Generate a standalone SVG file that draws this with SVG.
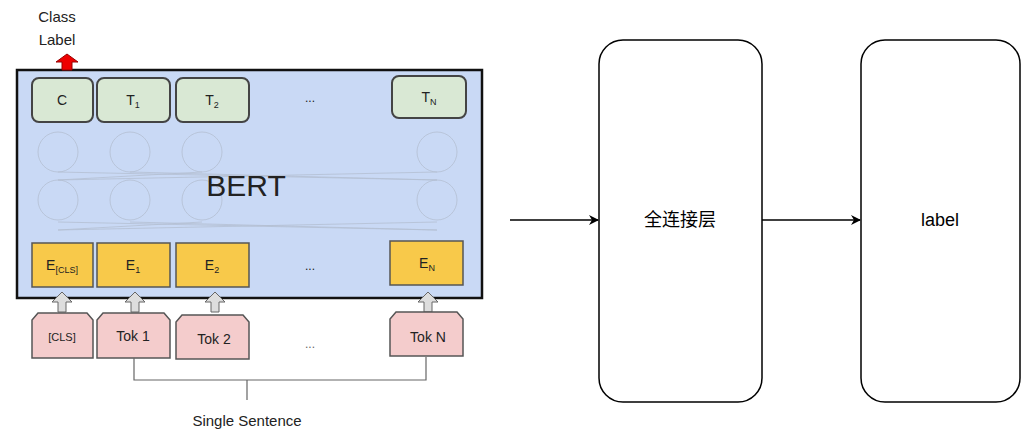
<svg xmlns="http://www.w3.org/2000/svg" width="1022" height="442" viewBox="0 0 1022 442">
<defs>
<style>
.t{font-family:"Liberation Sans",Arial,sans-serif;fill:#222}
.g{fill:#d9e8d4;stroke:#444;stroke-width:2}
.y{fill:#f8c94a;stroke:#555;stroke-width:1.5}
.p{fill:#f4cccc;stroke:#555;stroke-width:1.5}
.c{fill:none;stroke:#b4bfd2;stroke-width:0.8}
.ga{fill:#ddd;stroke:#666;stroke-width:1}
.w{fill:#fff;stroke:#000;stroke-width:1.5}
</style>
<marker id="ah" markerWidth="10" markerHeight="10" refX="9" refY="5" orient="auto" markerUnits="userSpaceOnUse"><path d="M0,0 L10,5 L0,10 L3,5 z" fill="#000"/></marker>
</defs>
<rect width="1022" height="442" fill="#fff"/>
<g id="bert">
<rect x="17" y="70" width="465" height="228" fill="#c9d9f5" stroke="#111" stroke-width="2.5"/>
<g class="c">
<ellipse cx="58" cy="152" rx="20" ry="20"/><ellipse cx="130" cy="152" rx="20" ry="20"/><ellipse cx="202" cy="152" rx="20" ry="20"/><ellipse cx="437" cy="152" rx="20" ry="20"/>
<ellipse cx="58" cy="200" rx="20" ry="20"/><ellipse cx="130" cy="200" rx="20" ry="20"/><ellipse cx="202" cy="200" rx="20" ry="20"/><ellipse cx="437" cy="200" rx="20" ry="20"/>
<path d="M58,172 L437,180 M437,172 L58,180 M130,172 L437,180 M202,172 L58,180 M58,222 L437,230 M437,222 L58,230 M130,222 L437,230 M202,222 L58,230"/>
</g>
<text x="246" y="196" class="t" font-size="30" text-anchor="middle" fill="#111">BERT</text>
<text x="310" y="102" class="t" font-size="12" text-anchor="middle" fill="#666">...</text>
<text x="310" y="270" class="t" font-size="12" text-anchor="middle" fill="#666">...</text>
</g>
<g id="outputs" class="t" font-size="14" text-anchor="middle">
<rect class="g" x="32" y="78" width="61" height="44" rx="7"/><text x="62" y="105">C</text>
<rect class="g" x="97" y="78" width="73" height="44" rx="7"/><text x="133" y="105">T<tspan font-size="9" dy="3">1</tspan></text>
<rect class="g" x="176" y="78" width="73" height="44" rx="7"/><text x="212" y="105">T<tspan font-size="9" dy="3">2</tspan></text>
<rect class="g" x="392" y="76" width="74" height="42" rx="7"/><text x="429" y="102">T<tspan font-size="9" dy="3">N</tspan></text>
</g>
<g id="class-label">
<path d="M62,70 V62 H56 L67,54 L78,62 H72 V70 z" fill="#e00" stroke="#900"/>
<text x="57" y="22" class="t" font-size="15" text-anchor="middle" fill="#444">Class</text>
<text x="57" y="45" class="t" font-size="15" text-anchor="middle" fill="#444">Label</text>
</g>
<g id="embeddings" class="t" font-size="14" text-anchor="middle">
<rect class="y" x="32" y="243" width="61" height="44"/><text x="62" y="270">E<tspan font-size="9" dy="3">[CLS]</tspan></text>
<rect class="y" x="97" y="243" width="73" height="44"/><text x="133" y="270">E<tspan font-size="9" dy="3">1</tspan></text>
<rect class="y" x="176" y="243" width="73" height="44"/><text x="212" y="270">E<tspan font-size="9" dy="3">2</tspan></text>
<rect class="y" x="390" y="241" width="73" height="44"/><text x="427" y="268">E<tspan font-size="9" dy="3">N</tspan></text>
</g>
<g id="up-arrows" class="ga">
<path d="M58,312 V302 H52 L62,292 L72,302 H66 V312 z"/>
<path d="M131,312 V302 H125 L135,292 L145,302 H139 V312 z"/>
<path d="M211,312 V302 H205 L215,292 L225,302 H219 V312 z"/>
<path d="M424,312 V302 H418 L428,292 L438,302 H432 V312 z"/>
</g>
<g id="tokens" class="t" font-size="14" text-anchor="middle">
<path class="p" d="M32,358 V320 L38,313 H87 L93,320 V358 z"/><text x="62" y="341" font-size="11">[CLS]</text>
<path class="p" d="M97,358 V320 L103,313 H164 L170,320 V358 z"/><text x="133" y="341">Tok 1</text>
<path class="p" d="M176,359 V322 L182,315 H243 L249,322 V359 z"/><text x="214" y="344">Tok 2</text>
<path class="p" d="M390,356 V319 L396,312 H457 L463,319 V356 z"/><text x="428" y="342">Tok N</text>
<text x="310" y="348" font-size="12" fill="#666">...</text>
</g>
<g id="sentence">
<path d="M134,358 V380 H426 V357 M247,380 V400" fill="none" stroke="#666" stroke-width="1.2"/>
<text x="247" y="426" class="t" font-size="15" text-anchor="middle" fill="#444">Single Sentence</text>
</g>
<g id="connectors" fill="none" stroke="#000" stroke-width="1.5">
<line x1="510" y1="220" x2="598" y2="220" marker-end="url(#ah)"/>
<line x1="762" y1="220" x2="860" y2="220" marker-end="url(#ah)"/>
</g>
<g id="fc">
<rect class="w" x="599" y="40" width="163" height="362" rx="24"/>
<text x="680" y="226" font-family="'Liberation Sans','Noto Sans CJK SC',sans-serif" font-size="18" text-anchor="middle">全连接层</text>
</g>
<g id="label">
<rect class="w" x="861" y="40" width="159" height="362" rx="24"/>
<text x="940" y="226" font-family="'Liberation Sans',Arial,sans-serif" font-size="18" text-anchor="middle">label</text>
</g>
</svg>
